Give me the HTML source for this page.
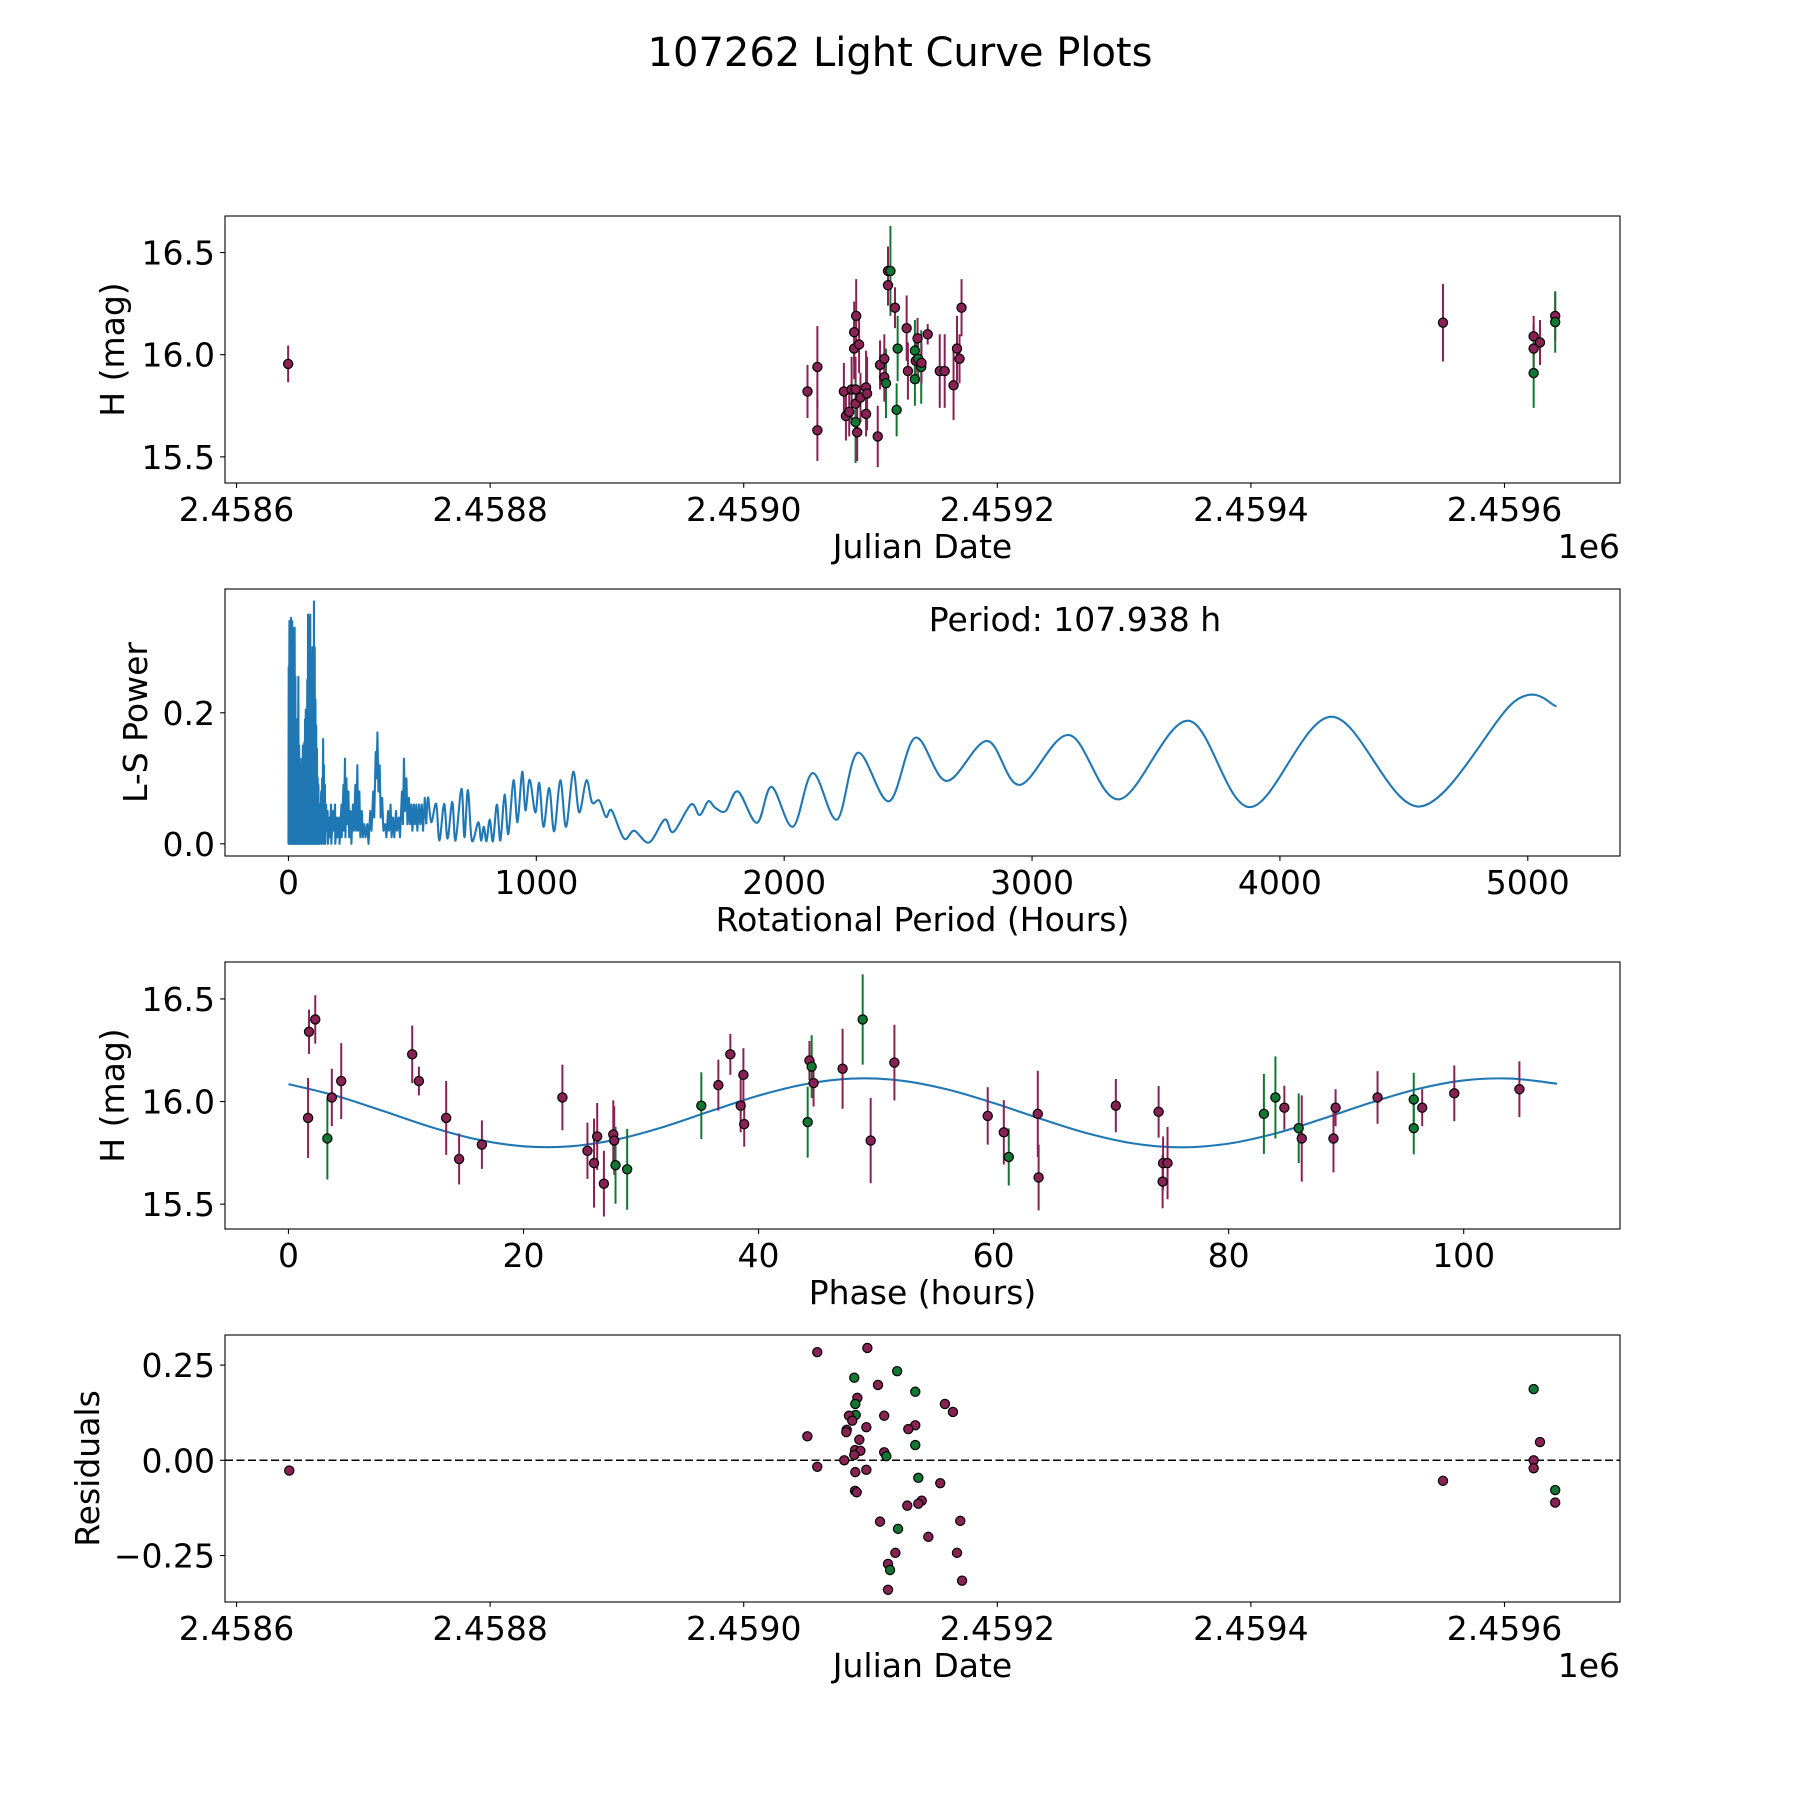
<!DOCTYPE html>
<html><head><meta charset="utf-8"><style>
html,body{margin:0;padding:0;background:#fff}
svg{display:block}
text{font-family:"DejaVu Sans","Liberation Sans",sans-serif;fill:#000}
</style></head><body>
<svg id="fig" width="1800" height="1800" viewBox="0 0 1800 1800" xmlns="http://www.w3.org/2000/svg">
<rect width="1800" height="1800" fill="#fff"/>
<text x="900" y="66" font-size="40" text-anchor="middle">107262 Light Curve Plots</text>
</svg>
<script>
// ---------- DATA ----------
const lcDays=[450.3,458.1,458.1,479,480.6,483.2,485.1,488.2,488.2,488.2,489.5,492.1,496.5,497.3,496.5,487.1,491,487.1,488.7,505.7,507.5,510.9,510.9,512.2,513.8,515.7,513.8,519.3,521.4,520.6,528.5,529.5,535,535.7,535,537.1,537.6,540,540.2,545.1,554.6,558.5,565.5,568.2,570.2,571.8,40.7,951.5,1023,1023,1023,1028,1040,1040];
const lcMag=[15.82,15.94,15.63,15.82,15.70,15.72,15.83,15.83,15.76,15.67,15.62,15.79,15.84,15.81,15.71,16.03,16.05,16.11,16.19,15.60,15.95,15.98,15.89,15.86,16.41,16.41,16.34,16.23,16.03,15.73,16.13,15.92,16.02,15.97,15.88,16.08,15.98,15.94,15.96,16.10,15.92,15.92,15.85,16.03,15.98,16.23,15.955,16.157,16.09,16.03,15.91,16.06,16.19,16.16];
const lcErr=[0.13,0.2,0.15,0.14,0.12,0.12,0.16,0.16,0.15,0.2,0.14,0.12,0.18,0.18,0.11,0.15,0.14,0.15,0.18,0.15,0.12,0.12,0.12,0.17,0.12,0.22,0.1,0.1,0.16,0.13,0.16,0.14,0.15,0.1,0.13,0.1,0.12,0.18,0.1,0.05,0.18,0.18,0.17,0.16,0.12,0.14,0.09,0.19,0.1,0.12,0.17,0.11,0.12,0.15];
const lcBand=["M","M","M","M","M","M","M","M","M","G","M","M","M","M","M","M","M","M","M","M","M","M","M","G","M","G","M","M","G","G","M","M","G","M","G","M","G","G","M","M","M","M","M","M","M","M","M","M","M","M","G","M","M","G"];
const lcXTicks=[0,200,400,600,800,1000];
const lcXTickLabels=["2.4586","2.4588","2.4590","2.4592","2.4594","2.4596"];
const magTicks=[15.5,16.0,16.5];
const magTickLabels=["15.5","16.0","16.5"];

const lsPeriodDense=[0,1,2,3,4,5,6,7,8,9,10,11,12,13,15,16,17,18,19,20,22,23,25,26,28,29,31,32,34,35,37,38,40,41,43,44,46,47,49,50,52,53,55,56,58,59,61,62,64,65,67,68,70,71,73,74,76,77,79,80,82,83,85,86,88,89,91,92,94,95,97,98,100,101,103,104,106,107,109,110,112,113,115,116,118,119,121,122,124,125,128,129,132,133,136,137,140,141,143,144,147,148,152,153,158,159,165,166,172,173,180,181,188,189,196,197,205,206,214,215,222,224,228,230,234,237,242,245,250,254,260,264,270,273,278,281,286,290,296,300,306,311,318,323,330,335,342,346,352,355,359,363,368,372,378,383,390,395,402,406,412,416,422,427,434,438,445,450,458,462,466,470,476,480,486,490,496,500,506,510,516,520,527,532,538,543,550,556];
const lsPowerDense=[0,0.27,0,0.2,0.34,0.02,0.3,0,0.33,0.05,0.345,0,0.3,0.02,0.34,0,0.25,0.03,0.33,0,0.2,0,0.33,0.02,0.255,0,0.18,0.01,0.19,0,0.12,0.02,0.255,0,0.15,0.01,0.13,0,0.1,0.02,0.12,0,0.13,0.01,0.15,0,0.12,0.02,0.155,0,0.19,0.01,0.205,0,0.15,0.02,0.25,0,0.35,0.05,0.345,0,0.28,0.03,0.35,0,0.29,0.02,0.29,0,0.3,0.04,0.25,0,0.37,0.02,0.3,0,0.22,0.03,0.18,0,0.145,0.02,0.1,0,0.09,0.02,0.06,0,0.06,0.01,0.08,0,0.1,0.02,0.16,0,0.12,0.03,0.09,0,0.06,0.02,0.05,0,0.04,0.01,0.06,0,0.05,0.02,0.06,0,0.04,0.01,0.04,0,0.06,0.01,0.09,0.02,0.13,0.01,0.1,0.03,0.08,0.01,0.05,0,0.06,0.02,0.09,0.02,0.12,0.02,0.08,0.01,0.05,0.01,0.03,0.01,0.03,0,0.05,0.02,0.08,0.04,0.14,0.1,0.17,0.08,0.12,0.04,0.07,0.02,0.03,0.01,0.05,0.02,0.06,0.01,0.04,0.01,0.05,0.02,0.04,0.01,0.08,0.03,0.13,0.05,0.1,0.03,0.07,0.03,0.06,0.02,0.06,0.03,0.06,0.02,0.06,0.03,0.06,0.02,0.07,0.03];
const lsPeriodSmooth=[556,563,576,596,609,628,642,661,674,698,710,724,740,766,777,788,799,812,825,841,855,872,887,908,924,943,956,973,996,1012,1029,1052,1072,1097,1120,1149,1173,1202,1225,1254,1281,1304,1354,1395,1455,1518,1553,1624,1659,1694,1722,1764,1813,1890,1949,2035,2115,2213,2297,2423,2529,2655,2819,2950,3150,3352,3630,3880,4208,4565,4949,5116];
const lsPowerSmooth=[0.03,0.071,0.033,0.061,0.005,0.061,0.008,0.064,0.005,0.084,0.010,0.082,0.005,0.033,0.005,0.026,0.004,0.037,0.004,0.060,0.005,0.075,0.015,0.097,0.033,0.110,0.051,0.098,0.048,0.093,0.026,0.085,0.019,0.097,0.026,0.110,0.048,0.097,0.063,0.066,0.041,0.051,0.008,0.020,0.002,0.037,0.018,0.060,0.044,0.065,0.055,0.050,0.080,0.032,0.087,0.026,0.108,0.037,0.139,0.065,0.162,0.096,0.157,0.090,0.166,0.068,0.188,0.056,0.194,0.057,0.218,0.210];
const lsXTicks=[0,1000,2000,3000,4000,5000];
const lsXTickLabels=["0","1000","2000","3000","4000","5000"];
const lsYTicks=[0,0.2];
const lsYTickLabels=["0.0","0.2"];

const phHours=[1.75,2.28,1.67,3.31,3.69,4.49,10.53,11.1,13.42,14.52,16.46,23.31,25.44,26.0,26.27,26.84,27.64,27.72,27.83,28.82,35.13,36.58,37.6,38.48,38.71,38.78,44.18,44.33,44.52,44.68,47.15,48.86,49.54,51.56,59.5,60.87,61.29,63.76,63.83,70.4,74.04,74.42,74.8,74.38,83.0,83.98,84.74,85.96,86.22,88.92,89.1,92.67,95.75,95.75,96.47,99.2,104.74];
const phMag=[16.34,16.40,15.92,15.82,16.02,16.10,16.23,16.10,15.92,15.72,15.79,16.02,15.76,15.70,15.83,15.60,15.84,15.81,15.69,15.67,15.98,16.08,16.23,15.98,16.13,15.89,15.90,16.20,16.17,16.09,16.16,16.40,15.81,16.19,15.93,15.85,15.73,15.94,15.63,15.98,15.95,15.70,15.70,15.61,15.94,16.02,15.97,15.87,15.82,15.82,15.97,16.02,16.01,15.87,15.97,16.04,16.06];
const phErr=[0.108,0.118,0.195,0.2,0.14,0.185,0.14,0.07,0.18,0.124,0.118,0.16,0.137,0.217,0.163,0.16,0.166,0.167,0.188,0.197,0.163,0.124,0.1,0.13,0.13,0.11,0.173,0.095,0.153,0.114,0.195,0.22,0.208,0.184,0.14,0.157,0.139,0.21,0.16,0.13,0.126,0.13,0.176,0.13,0.195,0.2,0.107,0.17,0.21,0.165,0.09,0.128,0.13,0.127,0.09,0.136,0.136];
const phBand=["M","M","M","G","M","M","M","M","M","M","M","M","M","M","M","M","M","M","G","G","G","M","M","M","M","M","G","M","G","M","M","G","M","M","M","M","G","M","M","M","M","M","M","M","G","G","M","G","M","M","M","M","G","G","M","M","M"];
const modelPhase=[0,4,8,12,16,20,24,28,32,36,40,44,48,52,56,60,64,68,72,76,80,84,88,92,96,100,104,107.94];
const modelMag=[16.085,16.029,15.955,15.878,15.816,15.782,15.782,15.816,15.878,15.955,16.029,16.085,16.112,16.103,16.060,15.993,15.916,15.845,15.795,15.777,15.795,15.845,15.916,15.993,16.060,16.103,16.112,16.087];
const phXTicks=[0,20,40,60,80,100];
const phXTickLabels=["0","20","40","60","80","100"];

const resDays=[458,497.5,521,487.2,505.9,535.3,489.6,488,558.7,565,488.3,483,485.6,510.8,496.7,535.3,529.8,481.2,480.9,450.2,491.2,535.3,487.8,492,510.8,512.5,487.2,479.3,458,496.7,488,537.7,555,487.8,489.1,540.4,537.7,529,507.5,570.8,521.7,545.6,519.6,568.2,513.8,515.4,572.2,513.8,41.6,951.5,1023,1023,1023,1028,1040,1040];
const resVal=[0.284,0.295,0.234,0.217,0.198,0.180,0.164,0.148,0.148,0.127,0.119,0.117,0.104,0.117,0.087,0.092,0.082,0.080,0.074,0.063,0.054,0.040,0.027,0.025,0.021,0.011,0.014,0.000,-0.017,-0.025,-0.031,-0.046,-0.060,-0.080,-0.084,-0.106,-0.114,-0.119,-0.161,-0.159,-0.180,-0.201,-0.243,-0.243,-0.272,-0.288,-0.316,-0.340,-0.027,-0.054,0.187,0.0,-0.021,0.048,-0.078,-0.111];
const resBand=["M","M","G","G","M","G","M","G","M","M","G","M","M","M","M","M","M","M","M","M","M","G","M","M","M","G","M","M","M","M","M","G","M","M","M","M","M","M","M","M","G","M","M","M","M","G","M","M","M","M","G","M","M","M","G","M"];
const resTicks=[-0.25,0,0.25];
const resTickLabels=["\u22120.25","0.00","0.25"];

// ---------- RENDER ----------
const NS="http://www.w3.org/2000/svg";
const svg=document.getElementById('fig');
const COL={M:"#882255",G:"#117733"};
const L=225,R=1620,FS=33;
function mk(tag,attrs,parent){const e=document.createElementNS(NS,tag);for(const k in attrs)e.setAttribute(k,attrs[k]);(parent||svg).appendChild(e);return e;}
function lin(d0,d1,r0,r1){return v=>r0+(v-d0)/(d1-d0)*(r1-r0);}

function axes(name,top,bot,xs,ys,xt,xtl,yt,ytl,xlabel,ylabel,ylabelX){
  const g=mk('g',{});
  
  
  xt.forEach((v,i)=>{
    const x=xs(v);
    const t=mk('line',{x1:x,x2:x,y1:bot,y2:bot+4.9,stroke:'#000','stroke-width':1.1},g);
    
    
    const tx=mk('text',{x:x,y:bot+38,'font-size':FS,'text-anchor':'middle'},g);
    tx.textContent=xtl[i];
    
    
  });
  yt.forEach((v,i)=>{
    const y=ys(v);
    const t=mk('line',{x1:L-4.9,x2:L,y1:y,y2:y,stroke:'#000','stroke-width':1.1},g);
    
    
    const tx=mk('text',{x:L-10,y:y+12,'font-size':FS,'text-anchor':'end'},g);
    tx.textContent=ytl[i];
    
    
  });
  const xl=mk('text',{x:(L+R)/2,y:bot+75,'font-size':FS,'text-anchor':'middle'},g);
  xl.textContent=xlabel;
  
  
  const cy=(top+bot)/2;
  const yl=mk('text',{x:ylabelX,y:cy,'font-size':FS,'text-anchor':'middle',transform:`rotate(-90 ${ylabelX} ${cy})`},g);
  yl.textContent=ylabel;
  
  
  return g;
}
function frame(top,bot){
  const f=mk('rect',{x:L,y:top,width:R-L,height:bot-top,fill:'none',stroke:'#000','stroke-width':1.1});
  
  
}
function clip(id,top,bot){
  const c=mk('clipPath',{id:id});mk('rect',{x:L,y:top,width:R-L,height:bot-top},c);
}
function errPoints(gname,xsArr,ysArr,errs,bands,xs,ys,cid){
  const g=mk('g',{'clip-path':`url(#${cid})`});
  
  
  xsArr.forEach((d,i)=>{
    const x=xs(d),c=COL[bands[i]];
    if(errs){
      const e=mk('line',{x1:x,x2:x,y1:ys(ysArr[i]-errs[i]),y2:ys(ysArr[i]+errs[i]),stroke:c,'stroke-width':2},g);
      
      
    }
  });
  xsArr.forEach((d,i)=>{
    const p=mk('circle',{cx:xs(d),cy:ys(ysArr[i]),r:4.6,fill:COL[bands[i]],stroke:'#000','stroke-width':1.2},g);
    
    
  });
}
function crPath(px,py){
  let d=`M${px[0]},${py[0]}`;
  for(let i=0;i<px.length-1;i++){
    const x0=px[Math.max(i-1,0)],y0=py[Math.max(i-1,0)],x1=px[i],y1=py[i],x2=px[i+1],y2=py[i+1],x3=px[Math.min(i+2,px.length-1)],y3=py[Math.min(i+2,px.length-1)];
    d+=` C${x1+(x2-x0)/6},${y1+(y2-y0)/6} ${x2-(x3-x1)/6},${y2-(y3-y1)/6} ${x2},${y2}`;
  }
  return d;
}

{
  const top=216,bot=483;
  const xs=lin(-9.1,1091.1,L,R), ys=lin(15.372,16.679,bot,top);
  clip('c1',top,bot);
  axes('light-curve-axes',top,bot,xs,ys,lcXTicks,lcXTickLabels,magTicks,magTickLabels,'Julian Date','H (mag)',124);
  errPoints('light-curve-points',lcDays,lcMag,lcErr,lcBand,xs,ys,'c1');
  frame(top,bot);
  const o=mk('text',{x:R,y:558,'font-size':FS,'text-anchor':'end'});o.textContent='1e6';
  
  
}
{
  const top=589,bot=856;
  const xs=lin(-256,5372,L,R), ys=lin(-0.0186,0.389,bot,top);
  clip('c2',top,bot);
  axes('periodogram-axes',top,bot,xs,ys,lsXTicks,lsXTickLabels,lsYTicks,lsYTickLabels,'Rotational Period (Hours)','L-S Power',147);
  let d='';
  lsPeriodDense.forEach((p,i)=>{d+=(i?'L':'M')+xs(p)+','+ys(lsPowerDense[i]);});
  const l1=mk('path',{d:d,fill:'none',stroke:'#1f77b4','stroke-width':2.1,'stroke-linejoin':'round','clip-path':'url(#c2)'});
  
  
  const l2=mk('path',{d:crPath(lsPeriodSmooth.map(xs),lsPowerSmooth.map(ys)),fill:'none',stroke:'#1f77b4','stroke-width':2.1,'clip-path':'url(#c2)'});
  
  
  frame(top,bot);
  const t=mk('text',{x:1075,y:631,'font-size':FS,'text-anchor':'middle'});t.textContent='Period: 107.938 h';
  
  
}
{
  const top=962,bot=1229;
  const xs=lin(-5.4,113.3,L,R), ys=lin(15.379,16.68,bot,top);
  clip('c3',top,bot);
  axes('phase-axes',top,bot,xs,ys,phXTicks,phXTickLabels,magTicks,magTickLabels,'Phase (hours)','H (mag)',124);
  const m=mk('path',{d:crPath(modelPhase.map(xs),modelMag.map(ys)),fill:'none',stroke:'#1f77b4','stroke-width':2.1,'clip-path':'url(#c3)'});
  
  
  errPoints('phase-points',phHours,phMag,phErr,phBand,xs,ys,'c3');
  frame(top,bot);
}
{
  const top=1335,bot=1602;
  const xs=lin(-9.1,1091.1,L,R), ys=lin(-0.372,0.329,bot,top);
  clip('c4',top,bot);
  axes('residuals-axes',top,bot,xs,ys,lcXTicks,lcXTickLabels,resTicks,resTickLabels,'Julian Date','Residuals',99);
  const z=mk('line',{x1:L,x2:R,y1:ys(0),y2:ys(0),stroke:'#000','stroke-width':1.5,'stroke-dasharray':'8,3.5'});
  
  
  errPoints('residual-points',resDays,resVal,null,resBand,xs,ys,'c4');
  frame(top,bot);
  const o=mk('text',{x:R,y:1677,'font-size':FS,'text-anchor':'end'});o.textContent='1e6';
  
  
}
</script>
</body></html>
